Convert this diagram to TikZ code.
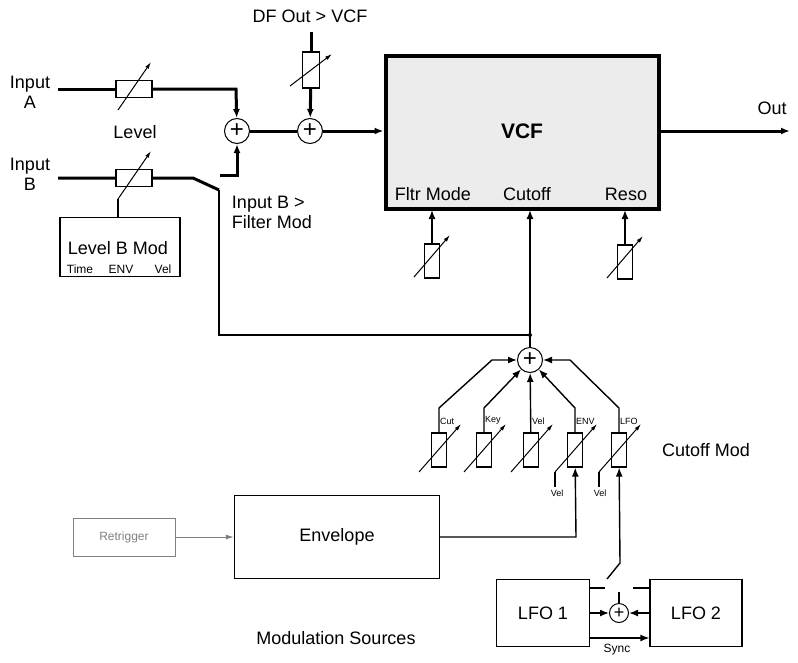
\documentclass[tikz,border=0pt]{standalone}
\usepackage{fontspec}
\setmainfont{Liberation Sans}
\usetikzlibrary{arrows.meta,positioning}
\tikzset{
  res/.style={draw,line width=1.2pt,fill=white,minimum width=15pt,minimum height=34pt,inner sep=0pt},
  resh/.style={draw,line width=1.2pt,fill=white,minimum width=36pt,minimum height=17pt,inner sep=0pt},
  sum/.style={draw,circle,line width=1pt,minimum size=25pt,inner sep=0pt,font=\fontsize{24}{24}\selectfont},
  blk/.style={draw,line width=1.2pt,inner sep=0pt},
  sig/.style={line width=3pt},
  mod/.style={line width=1.4pt},
  tip/.style={-{Latex[length=9pt,width=7pt]}},
  adj/.style={-{Latex[length=7pt,width=4pt]},line width=1pt},
  lbl/.style={font=\fontsize{12}{13}\selectfont}
}
\begin{document}
\begin{tikzpicture}[x=1pt,y=-1pt,font=\fontsize{18}{20}\selectfont]
    \useasboundingbox (0,0) rectangle (798,662);

    % Dibuja el filtro VCF
    \node[draw,line width=4pt,fill=gray!15,minimum width=273pt,minimum height=153pt] (vcf) at (522,132) {};
    \node[font=\fontsize{21}{24}\selectfont\bfseries] at (522,131) {VCF};
    \node (fm) at (433,194) {Fltr Mode};
    \node (cu) at (527,194) {Cutoff};
    \node (re) at (626,194) {Reso};
    \coordinate (out) at (790,131);
    \draw[sig,tip] (vcf.east |- out) -- (out);
    \node at (772,108) {Out};

    % Dibuja las entradas A y B
    \node[align=center] (inA) at (30,92) {Input\\A};
    \node[align=center] (inB) at (30,174) {Input\\B};
    \node[resh] (rA) at (134,89) {};
    \node[resh] (rB) at (134,178) {};
    \node at (135,132) {Level};
    \node[sum] (s1) at (237,131) {+};
    \node[sum] (s2) at (310,131) {+};
    \draw[sig] (58,89) -- (rA);
    \draw[sig,tip] (rA) -- (236,89) -- (s1);
    \draw[adj] (rA.center) ++(-16,21) -- ++(33,-48);
    \draw[sig] (58,178) -- (rB) -- (193,178) -- (219,190);
    \draw[sig,tip] (220,175) -- (237,175) -- (s1);
    \draw[adj] (rB.center) ++(-16,21) -- ++(33,-48);
    \draw[sig] (s1) -- (s2);
    \draw[sig,tip] (s2) -- (vcf.west |- s2);
    \node[align=left] at (272,212) {Input B >\\Filter Mod};

    % Dibuja la modulacion de Level B
    \node[blk,minimum width=120pt,minimum height=59pt] (lbm) at (120,247) {};
    \node at (118,248) {Level B Mod};
    \node[lbl] at (80,269) {Time};
    \node[lbl] at (121,269) {ENV};
    \node[lbl] at (163,269) {Vel};
    \draw[mod] (lbm.north -| 118,0) -- (118,199);

    % Dibuja DF Out > VCF
    \node (df) at (310,16) {DF Out > VCF};
    \node[res,minimum width=17pt,minimum height=36pt] (rdf) at (311,70) {};
    \draw[sig] (311,32) -- (rdf);
    \draw[sig,tip] (rdf) -- (s2);
    \draw[adj] (rdf.center) ++(-21,16) -- ++(42,-32);

    % Dibuja Fltr Mode y Reso
    \node[res] (rfm) at (432,261) {};
    \node[res] (rre) at (625,262) {};
    \draw[mod,tip] (rfm) -- (432,210);
    \draw[mod,tip] (rre) -- (625,210);
    \draw[adj] (rfm.center) ++(-18,16) -- ++(36,-42);
    \draw[adj] (rre.center) ++(-18,16) -- ++(36,-42);

    % Dibuja la suma de Cutoff
    \node[sum] (s3) at (530,360) {+};
    \coordinate (j) at (530,335);
    \fill (j) circle (2pt);
    \draw[mod,tip] (s3) -- (j) -- (530,210);
    \draw[mod] (219,190) -- (219,335) -- (j);

    % Dibuja las resistencias de Cutoff Mod
    \foreach \n/\x/\t in {c1/439/Cut,c2/484/Key,c3/531/Vel,c4/575/ENV,c5/619/LFO}{
      \node[res] (\n) at (\x,450) {};
      \node[font=\fontsize{9}{10}\selectfont,anchor=south west,inner xsep=1pt] at (\x,428) {\t};
      \draw[adj] (\n.center) ++(-20,22) -- ++(42,-48);
    }
    \draw[mod,tip] (c1) -- (439,408) -- (492,360) -- (s3);
    \draw[mod,tip] (c2) -- (484,408) -- (s3);
    \draw[mod,tip] (c3) -- (s3);
    \draw[mod,tip] (c4) -- (575,408) -- (s3);
    \draw[mod,tip] (c5) -- (619,408) -- (570,360) -- (s3);
    \draw[mod] (555,487) -- (555,472);
    \draw[mod] (599,487) -- (599,472);
    \node[font=\fontsize{9}{10}\selectfont] at (557,493) {Vel};
    \node[font=\fontsize{9}{10}\selectfont] at (600,493) {Vel};
    \node at (706,450) {Cutoff Mod};

    % Dibuja las fuentes de modulacion
    \node[blk,minimum width=205pt,minimum height=83pt] (env) at (337,537) {Envelope};
    \node[draw=gray,line width=1pt,text=gray,minimum width=102pt,minimum height=38pt,font=\fontsize{12}{13}\selectfont] (rt) at (124,537) {Retrigger};
    \draw[gray,line width=1pt,-{Latex[length=8pt,width=5pt]}] (rt) -- (env);
    \draw[mod,tip] (env.east) -- (576,537) -- (c4);
    \node[blk,minimum width=93pt,minimum height=67pt] (lfo1) at (543,613) {LFO 1};
    \node[blk,minimum width=92pt,minimum height=67pt] (lfo2) at (696,613) {LFO 2};
    \node[draw,circle,line width=1pt,minimum size=19pt,inner sep=0pt] (s4) at (619,613) {+};
    \draw[mod,tip] (lfo1) -- (s4);
    \draw[mod,tip] (lfo2) -- (s4);
    \draw[mod,tip] (lfo1.east |- 0,638) -- (lfo2.west |- 0,638);
    \node[lbl] at (617,650) {Sync};
    \draw[mod] (lfo1.east |- 0,588) -- (605,588);
    \draw[mod] (633,588) -- (lfo2.west |- 0,588);
    \draw[mod] (s4) -- (619,592);
    \draw[mod,tip] (607,579) -- (620,563) -- (c5);
    \node at (336,638) {Modulation Sources};
\end{tikzpicture}
\end{document}
